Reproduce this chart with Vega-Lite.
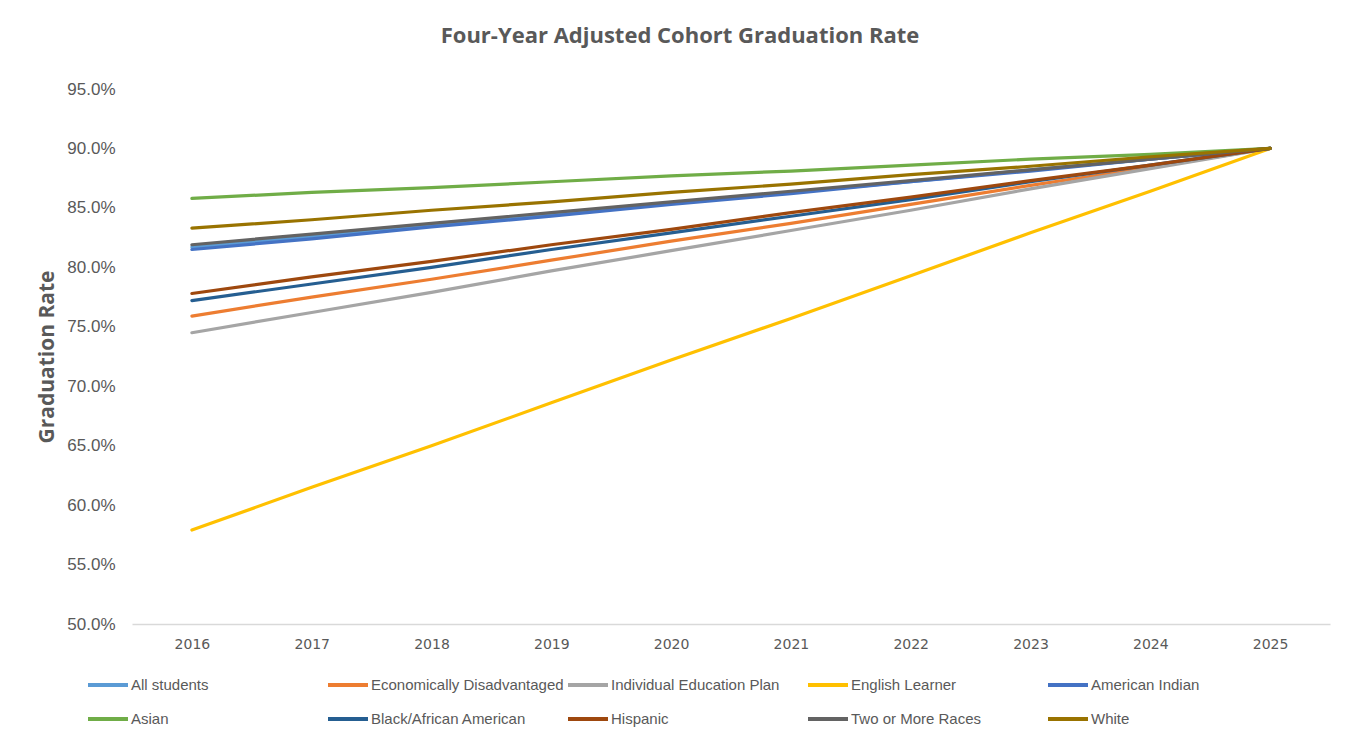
{
  "$schema": "https://vega.github.io/schema/vega-lite/v6.json",
  "width": 1198,
  "height": 535,
  "autosize": {"type": "none"},
  "padding": {"left": 132, "top": 89, "right": 22, "bottom": 116},
  "background": "white",
  "title": {
    "text": "Four-Year Adjusted Cohort Graduation Rate",
    "font": "Open Sans",
    "fontSize": 22,
    "fontWeight": "bold",
    "color": "#595959",
    "anchor": "middle",
    "dx": -51,
    "offset": 32
  },
  "data": {
    "values": [
      {"Year": "2016", "All students": 0.817, "Economically Disadvantaged": 0.759, "Individual Education Plan": 0.745, "English Learner": 0.579, "American Indian": 0.815, "Asian": 0.858, "Black/African  American": 0.772, "Hispanic": 0.778, "Two  or More Races": 0.819, "White": 0.833},
      {"Year": "2017", "All students": 0.826, "Economically Disadvantaged": 0.775, "Individual Education Plan": 0.762, "English Learner": 0.615, "American Indian": 0.824, "Asian": 0.863, "Black/African  American": 0.786, "Hispanic": 0.792, "Two  or More Races": 0.828, "White": 0.840},
      {"Year": "2018", "All students": 0.835, "Economically Disadvantaged": 0.790, "Individual Education Plan": 0.779, "English Learner": 0.650, "American Indian": 0.834, "Asian": 0.867, "Black/African  American": 0.800, "Hispanic": 0.805, "Two  or More Races": 0.837, "White": 0.848},
      {"Year": "2019", "All students": 0.845, "Economically Disadvantaged": 0.806, "Individual Education Plan": 0.797, "English Learner": 0.686, "American Indian": 0.843, "Asian": 0.872, "Black/African  American": 0.815, "Hispanic": 0.819, "Two  or More Races": 0.846, "White": 0.855},
      {"Year": "2020", "All students": 0.854, "Economically Disadvantaged": 0.822, "Individual Education Plan": 0.814, "English Learner": 0.722, "American Indian": 0.853, "Asian": 0.877, "Black/African  American": 0.829, "Hispanic": 0.832, "Two  or More Races": 0.855, "White": 0.863},
      {"Year": "2021", "All students": 0.863, "Economically Disadvantaged": 0.837, "Individual Education Plan": 0.831, "English Learner": 0.757, "American Indian": 0.862, "Asian": 0.881, "Black/African  American": 0.843, "Hispanic": 0.846, "Two  or More Races": 0.864, "White": 0.870},
      {"Year": "2022", "All students": 0.872, "Economically Disadvantaged": 0.853, "Individual Education Plan": 0.848, "English Learner": 0.793, "American Indian": 0.872, "Asian": 0.886, "Black/African  American": 0.857, "Hispanic": 0.859, "Two  or More Races": 0.873, "White": 0.878},
      {"Year": "2023", "All students": 0.882, "Economically Disadvantaged": 0.869, "Individual Education Plan": 0.866, "English Learner": 0.829, "American Indian": 0.881, "Asian": 0.891, "Black/African  American": 0.872, "Hispanic": 0.873, "Two  or More Races": 0.882, "White": 0.885},
      {"Year": "2024", "All students": 0.891, "Economically Disadvantaged": 0.884, "Individual Education Plan": 0.883, "English Learner": 0.864, "American Indian": 0.891, "Asian": 0.895, "Black/African  American": 0.886, "Hispanic": 0.886, "Two  or More Races": 0.891, "White": 0.893},
      {"Year": "2025", "All students": 0.900, "Economically Disadvantaged": 0.900, "Individual Education Plan": 0.900, "English Learner": 0.900, "American Indian": 0.900, "Asian": 0.900, "Black/African  American": 0.900, "Hispanic": 0.900, "Two  or More Races": 0.900, "White": 0.900}
    ]
  },
  "transform": [
    {"fold": ["All students", "Economically Disadvantaged", "Individual Education Plan", "English Learner", "American Indian", "Asian", "Black/African  American", "Hispanic", "Two  or More Races", "White"], "as": ["Group", "Rate"]}
  ],
  "mark": {"type": "line", "strokeWidth": 3.2, "strokeCap": "round"},
  "encoding": {
    "x": {
      "field": "Year",
      "type": "ordinal",
      "scale": {"type": "point", "padding": 0.5},
      "axis": {
        "title": null,
        "labelAngle": 0,
        "labelFont": "DejaVu Sans",
        "labelFontSize": 14,
        "labelColor": "#595959",
        "labelPadding": 13,
        "ticks": false,
        "domainColor": "#D9D9D9",
        "domainWidth": 1.3,
        "grid": false
      }
    },
    "y": {
      "field": "Rate",
      "type": "quantitative",
      "scale": {"domain": [0.5, 0.95], "nice": false, "zero": false},
      "axis": {
        "title": "Graduation Rate",
        "titleFont": "Open Sans",
        "titleFontSize": 21,
        "titleFontWeight": "bold",
        "titleColor": "#595959",
        "titlePadding": 9,
        "format": ".1%",
        "values": [0.5, 0.55, 0.6, 0.65, 0.7, 0.75, 0.8, 0.85, 0.9, 0.95],
        "labelFont": "Liberation Sans",
        "labelFontSize": 17,
        "labelColor": "#595959",
        "labelPadding": 17,
        "ticks": false,
        "domain": false,
        "grid": false
      }
    },
    "color": {
      "field": "Group",
      "type": "nominal",
      "sort": ["All students", "Economically Disadvantaged", "Individual Education Plan", "English Learner", "American Indian", "Asian", "Black/African  American", "Hispanic", "Two  or More Races", "White"],
      "scale": {
        "domain": ["All students", "Economically Disadvantaged", "Individual Education Plan", "English Learner", "American Indian", "Asian", "Black/African  American", "Hispanic", "Two  or More Races", "White"],
        "range": ["#5B9BD5", "#ED7D31", "#A5A5A5", "#FFC000", "#4472C4", "#70AD47", "#255E91", "#9E480E", "#636363", "#997300"]
      },
      "legend": {
        "title": null,
        "orient": "none",
        "direction": "horizontal",
        "legendX": -46,
        "legendY": 574,
        "columns": 5,
        "gridAlign": "all",
        "columnPadding": -4,
        "rowPadding": 4,
        "symbolType": "stroke",
        "symbolSize": 1600,
        "symbolStrokeWidth": 4,
        "labelOffset": 1,
        "labelFont": "Liberation Sans",
        "labelFontSize": 15,
        "labelColor": "#595959",
        "labelLimit": 300
      }
    }
  },
  "config": {
    "view": {"stroke": null}
  }
}
